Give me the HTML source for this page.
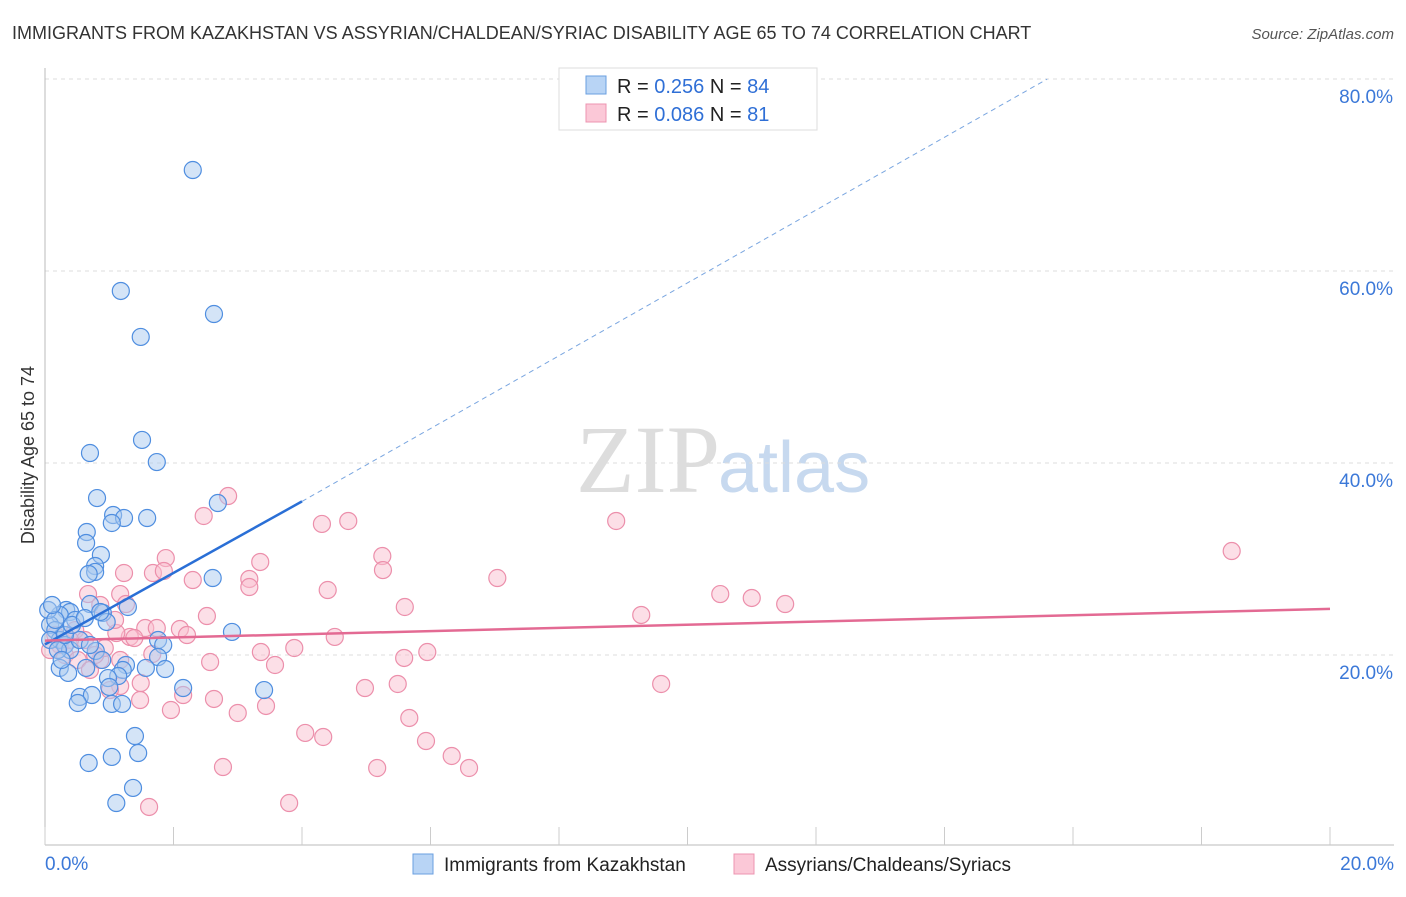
<!DOCTYPE html><html><head><meta charset="utf-8"><style>
body{margin:0;background:#fff;font-family:"Liberation Sans",sans-serif}
</style></head><body>
<svg width="1406" height="892" xmlns="http://www.w3.org/2000/svg">
<text x="12" y="39" font-size="18" fill="#333">IMMIGRANTS FROM KAZAKHSTAN VS ASSYRIAN/CHALDEAN/SYRIAC DISABILITY AGE 65 TO 74 CORRELATION CHART</text>
<text x="1394" y="39" font-size="15" fill="#555" font-style="italic" text-anchor="end">Source: ZipAtlas.com</text>
<text x="720" y="492" font-size="96" fill="#ddd" text-anchor="end" font-family="Liberation Serif">ZIP</text>
<text x="718" y="492" font-size="72" fill="#c7d9ef">atlas</text>
<g id="grid"></g><g id="axes"></g><g id="pts"></g><g id="lines"></g>
<text x="34" y="455" font-size="18" fill="#333" text-anchor="middle" transform="rotate(-90 34 455)">Disability Age 65 to 74</text>
<g>
<rect x="559" y="68" width="258" height="62" fill="#fff" stroke="#ddd"/>
<rect x="586" y="76" width="20" height="18" fill="#b8d4f5" stroke="#6a9fe0"/>
<rect x="586" y="104" width="20" height="18" fill="#fbc8d7" stroke="#ec94b0"/>
<text x="617" y="93" font-size="20" fill="#222">R = <tspan fill="#2f6fd6">0.256</tspan>    N = <tspan fill="#2f6fd6">84</tspan></text>
<text x="617" y="121" font-size="20" fill="#222">R = <tspan fill="#2f6fd6">0.086</tspan>    N = <tspan fill="#2f6fd6"> 81</tspan></text>
</g>
<g>
<rect x="413" y="854" width="20" height="20" fill="#b8d4f5" stroke="#6a9fe0"/>
<text x="444" y="871" font-size="19" fill="#222">Immigrants from Kazakhstan</text>
<rect x="734" y="854" width="20" height="20" fill="#fbc8d7" stroke="#ec94b0"/>
<text x="765" y="871" font-size="19" fill="#222">Assyrians/Chaldeans/Syriacs</text>
</g>
<text x="45" y="870" font-size="19" fill="#3b78d8">0.0%</text>
<text x="1394" y="870" font-size="19" fill="#3b78d8" text-anchor="end">20.0%</text>
</svg>
<script>
const yTicks=[20,40,60,80];
const xTicks=[0,2,4,6,8,10,12,14,16,18,20];
const bluePx=[[193,170],[121,291],[214,314],[141,337],[142,440],[90,453],[157,462],[97,498],[218,503],[113,515],[124,518],[147,518],[112,523],[87,532],[86,543],[101,555],[95,566],[95,572],[89,574],[213,578],[90,604],[128,607],[103,613],[107,622],[66,610],[70,612],[60,615],[75,620],[50,625],[55,630],[60,640],[65,645],[70,650],[80,640],[48,610],[55,620],[158,640],[163,645],[232,632],[96,651],[158,657],[102,660],[60,668],[68,673],[86,668],[126,665],[123,670],[118,676],[146,668],[165,669],[108,678],[183,688],[264,690],[80,697],[92,695],[78,703],[109,687],[112,704],[122,704],[135,736],[112,757],[138,753],[89,763],[133,788],[116,803],[50,640],[58,650],[65,635],[72,625],[85,618],[100,612],[52,605],[62,660],[90,645]];
const pinkPx=[[228,496],[204,516],[322,524],[348,521],[616,521],[1232,551],[382,556],[166,558],[383,570],[260,562],[124,573],[153,573],[164,571],[193,580],[249,579],[249,587],[497,578],[328,590],[720,594],[752,598],[785,604],[88,594],[120,594],[100,605],[405,607],[641,615],[207,616],[126,604],[145,628],[157,628],[180,629],[187,635],[130,637],[134,638],[116,633],[75,630],[85,640],[335,637],[294,648],[261,652],[152,654],[210,662],[275,665],[404,658],[427,652],[100,660],[120,660],[65,655],[78,660],[90,670],[120,686],[141,683],[183,695],[214,699],[238,713],[266,706],[365,688],[398,684],[661,684],[171,710],[409,718],[305,733],[323,737],[426,741],[452,756],[469,768],[223,767],[377,768],[289,803],[149,807],[55,635],[60,645],[50,650],[70,640],[105,648],[110,690],[95,655],[140,700],[115,620]];
// convert to data values (percent)
const blueX=bluePx.map(p=>+((p[0]-45)/64.25).toFixed(2)), blueY=bluePx.map(p=>+((847-p[1])/9.6).toFixed(2));
const pinkX=pinkPx.map(p=>+((p[0]-45)/64.25).toFixed(2)), pinkY=pinkPx.map(p=>+((847-p[1])/9.6).toFixed(2));
const blueTrend=[[0,21.1],[4,36.0],[15.6,80]];
const pinkTrend=[[0,21.5],[20,24.8]];
const NS="http://www.w3.org/2000/svg";
const sx=v=>45+v*64.25, sy=v=>847-v*9.6;
function mk(t,a,p){const e=document.createElementNS(NS,t);for(const k in a)e.setAttribute(k,a[k]);p.appendChild(e);return e;}
const g=document.getElementById('grid'),ax=document.getElementById('axes'),pts=document.getElementById('pts'),ln=document.getElementById('lines');
yTicks.forEach(t=>{const l=mk('line',{x1:45,x2:1394,y1:sy(t),y2:sy(t),stroke:'#ddd','stroke-dasharray':'4,4'},g);


const tx=mk('text',{x:1393,y:sy(t)+24,'font-size':19,fill:'#3b78d8','text-anchor':'end'},g);tx.textContent=t.toFixed(1)+'%';

});
mk('line',{x1:45,x2:45,y1:68,y2:845,stroke:'#bbb'},ax);
mk('line',{x1:45,x2:1394,y1:845,y2:845,stroke:'#bbb'},ax);
xTicks.forEach(t=>{const l=mk('line',{x1:sx(t),x2:sx(t),y1:827,y2:845,stroke:'#ccc'},ax);

});
function dots(X,Y,f,s,n){X.forEach((x,i)=>{const c=mk('circle',{cx:sx(x),cy:sy(Y[i]),r:8.5,fill:f,'fill-opacity':0.5,stroke:s,'stroke-width':1.2},pts);

});}
dots(pinkX,pinkY,'#f9c0d0','#ec8fab','pink-point');
dots(blueX,blueY,'#a9c9f0','#4f8ee0','blue-point');
const b1=mk('line',{x1:sx(blueTrend[0][0]),y1:sy(blueTrend[0][1]),x2:sx(blueTrend[1][0]),y2:sy(blueTrend[1][1]),stroke:'#2a6fd6','stroke-width':2.5},ln);


const b2=mk('line',{x1:sx(blueTrend[1][0]),y1:sy(blueTrend[1][1]),x2:sx(blueTrend[2][0]),y2:sy(blueTrend[2][1]),stroke:'#7aa6e0','stroke-width':1,'stroke-dasharray':'5,4'},ln);


const p1=mk('line',{x1:sx(pinkTrend[0][0]),y1:sy(pinkTrend[0][1]),x2:sx(pinkTrend[1][0]),y2:sy(pinkTrend[1][1]),stroke:'#e36a93','stroke-width':2.5},ln);


</script>
</body></html>
